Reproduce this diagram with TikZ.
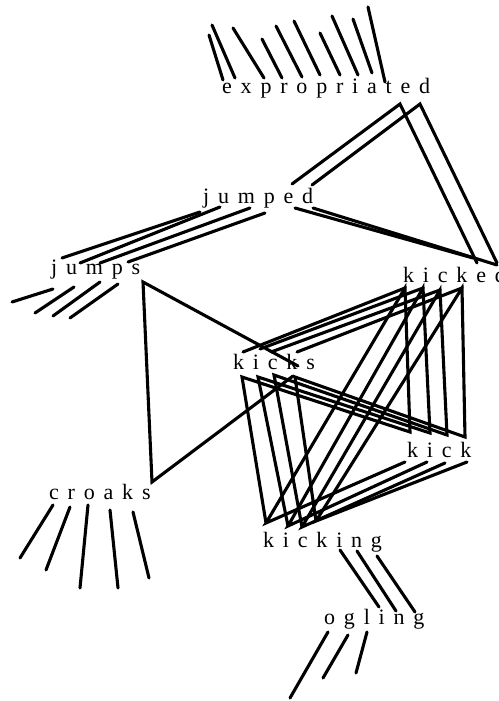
\documentclass[tikz,border=0pt]{standalone}
\usepackage{fontspec}
\newfontfamily\wordfont[LetterSpace=40]{Liberation Serif}
\begin{document}
\begin{tikzpicture}[x=1pt,y=-1pt,
  edge/.style={line width=3.1pt, line cap=round, line join=miter},
  word/.style={font=\wordfont\fontsize{22}{22}\selectfont, anchor=base west, inner sep=0pt}]
\useasboundingbox (0,0) rectangle (498,701);
% words
\node[word] (expropriated) at (222,93) {expropriated};
\node[word] (jumped) at (203,203) {jumped};
\node[word] (jumps) at (51,274) {jumps};
\node[word] (kicked) at (403,282) {kicked};
\node[word] (kicks) at (233,369) {kicks};
\node[word] (kick) at (407,457) {kick};
\node[word] (croaks) at (49,499) {croaks};
\node[word] (kicking) at (263,547) {kicking};
\node[word] (ogling) at (324,624) {ogling};
% free stubs
\foreach \a/\b/\c/\d [count=\i] in {
  209/35/223/80, 212/25/235/78, 233/28/264/78, 262/39/282/78, 276/26/302/77,
  294/21/320/75, 320/33/340/75, 332/16/358/75, 353/19/372/73, 368/7/385/82,
  12/302/53/289, 35/313/74/287, 53/316/100/282, 70/318/118/284,
  53/505/20/558, 70/507/46/570, 88/505/80/588, 110/510/118/588, 133/512/149/578,
  328/632/290/698, 348/635/323/678, 367/632/356/673}
{
  \coordinate (s\i a) at (\a,\b);
  \coordinate (s\i b) at (\c,\d);
  \draw[edge] (s\i a) -- (s\i b);
}
% anchors
\coordinate (je1) at (292,184); \coordinate (je2) at (312,185);
\coordinate (ej1) at (400,104); \coordinate (ej2) at (420,104);
\coordinate (ke1) at (477,263); \coordinate (ke2) at (497,263);
\coordinate (jk1) at (295,208); \coordinate (jk2) at (313,208);
\coordinate (kj1) at (473,258); \coordinate (kj2) at (497,265);
\draw[edge] (je1) -- (ej1) -- (ke1);
\draw[edge] (je2) -- (ej2) -- (ke2);
\draw[edge] (jk1) -- (kj1);
\draw[edge] (jk2) -- (kj2);
% jumped -> jumps
\foreach \a/\b/\c/\d [count=\i] in {62/258/200/212, 80/263/220/207, 100/263/250/208, 128/262/265/213}
{
  \coordinate (js\i) at (\a,\b);
  \coordinate (jd\i) at (\c,\d);
  \draw[edge] (js\i) -- (jd\i);
}
% jumps - kicks - croaks triangle
\coordinate (jsx) at (143,282);
\coordinate (ksj) at (298,366);
\coordinate (crx) at (152,482);
\coordinate (ksc) at (293,376);
\draw[edge] (ksj) -- (jsx) -- (crx) -- (ksc);
% kicking -> ogling
\foreach \a/\b/\c/\d [count=\i] in {340/550/379/607, 357/551/396/611, 377/556/415/612}
{
  \coordinate (kg\i) at (\a,\b);
  \coordinate (og\i) at (\c,\d);
  \draw[edge] (kg\i) -- (og\i);
}
% dense cluster anchors
\foreach \x/\y [count=\i] in {243/352, 260/349, 271/352, 297/352} \coordinate (kst\i) at (\x,\y);
\foreach \x/\y [count=\i] in {242/377, 258/377, 274/375, 295/377} \coordinate (ksb\i) at (\x,\y);
\foreach \x/\y [count=\i] in {405/288, 423/288, 440/290, 462/288} \coordinate (kd\i) at (\x,\y);
\foreach \x/\y [count=\i] in {410/432, 430/433, 447/435, 465/437} \coordinate (kkt\i) at (\x,\y);
\foreach \x/\y [count=\i] in {405/462, 427/462, 445/463, 467/462} \coordinate (kkb\i) at (\x,\y);
\foreach \x/\y [count=\i] in {266/523, 288/526, 302/527, 316/521} \coordinate (kgt\i) at (\x,\y);
\foreach \i in {1,...,4} {
  \draw[edge] (kst\i) -- (kd\i);
  \draw[edge] (kgt\i) -- (ksb\i) -- (kkt\i) -- (kd\i) -- (kgt\i) -- (kkb\i);
}
\end{tikzpicture}
\end{document}
